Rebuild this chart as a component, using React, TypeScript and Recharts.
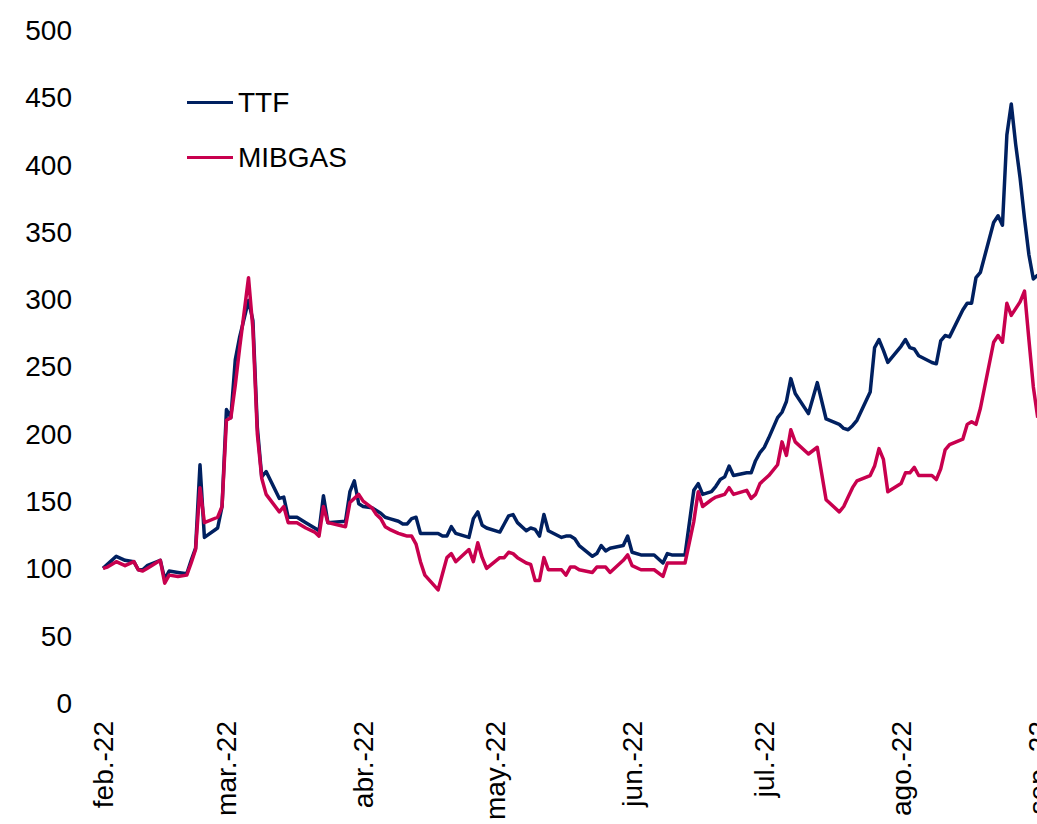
import React from 'react';
import { LineChart, Line, XAxis, YAxis, Legend } from 'recharts';

// readings taken off the chart (index, base 100 = 1 Feb 2022)
const dates = [
  '2022-02-01', '2022-02-02', '2022-02-04', '2022-02-06', '2022-02-08', '2022-02-09', '2022-02-10', '2022-02-11',
  '2022-02-14', '2022-02-15', '2022-02-16', '2022-02-18', '2022-02-20', '2022-02-21', '2022-02-22', '2022-02-23',
  '2022-02-24', '2022-02-27', '2022-02-28', '2022-03-01', '2022-03-02', '2022-03-03', '2022-03-04', '2022-03-06',
  '2022-03-07', '2022-03-08', '2022-03-09', '2022-03-10', '2022-03-13', '2022-03-14', '2022-03-15', '2022-03-17',
  '2022-03-19', '2022-03-21', '2022-03-22', '2022-03-23', '2022-03-24', '2022-03-28', '2022-03-29', '2022-03-30',
  '2022-03-31', '2022-04-01', '2022-04-03', '2022-04-04', '2022-04-05', '2022-04-06', '2022-04-07', '2022-04-09',
  '2022-04-10', '2022-04-11', '2022-04-12', '2022-04-13', '2022-04-14', '2022-04-15', '2022-04-18', '2022-04-19',
  '2022-04-20', '2022-04-21', '2022-04-22', '2022-04-25', '2022-04-26', '2022-04-27', '2022-04-28', '2022-04-29',
  '2022-05-02', '2022-05-03', '2022-05-04', '2022-05-05', '2022-05-06', '2022-05-08', '2022-05-09', '2022-05-10',
  '2022-05-11', '2022-05-12', '2022-05-13', '2022-05-16', '2022-05-17', '2022-05-18', '2022-05-19', '2022-05-20',
  '2022-05-23', '2022-05-24', '2022-05-25', '2022-05-26', '2022-05-27', '2022-05-30', '2022-05-31', '2022-06-01',
  '2022-06-03', '2022-06-06', '2022-06-08', '2022-06-09', '2022-06-10', '2022-06-13', '2022-06-15', '2022-06-16',
  '2022-06-17', '2022-06-19', '2022-06-20', '2022-06-21', '2022-06-22', '2022-06-23', '2022-06-24', '2022-06-27',
  '2022-06-28', '2022-06-29', '2022-06-30', '2022-07-01', '2022-07-02', '2022-07-04', '2022-07-05', '2022-07-06',
  '2022-07-07', '2022-07-08', '2022-07-11', '2022-07-13', '2022-07-15', '2022-07-18', '2022-07-19', '2022-07-20',
  '2022-07-21', '2022-07-22', '2022-07-25', '2022-07-26', '2022-07-27', '2022-07-28', '2022-07-29', '2022-08-01',
  '2022-08-02', '2022-08-03', '2022-08-04', '2022-08-05', '2022-08-08', '2022-08-09', '2022-08-10', '2022-08-11',
  '2022-08-12', '2022-08-15', '2022-08-16', '2022-08-17', '2022-08-18', '2022-08-19', '2022-08-22', '2022-08-23',
  '2022-08-24', '2022-08-25', '2022-08-26', '2022-08-27', '2022-08-28', '2022-08-29', '2022-08-30', '2022-08-31',
  '2022-09-01',
];

const ttf = [
  100, 103, 109, 106, 105, 99, 99, 102,
  106, 92, 98, 97, 96, 106, 115, 177,
  123, 130, 146, 218, 212, 255, 272, 299,
  284, 205, 168, 172, 152, 153, 138, 138,
  134, 130, 128, 154, 134, 135, 157, 165,
  148, 146, 145, 143, 141, 138, 137, 135,
  133, 133, 137, 138, 126, 126, 126, 124,
  124, 131, 126, 123, 137, 142, 132, 130,
  127, 133, 139, 140, 134, 128, 130, 129,
  124, 140, 128, 123, 124, 124, 122, 117,
  109, 111, 117, 113, 115, 117, 124, 112,
  110, 110, 104, 111, 110, 110, 158, 163,
  155, 157, 161, 166, 168, 176, 169, 171,
  171, 180, 186, 190, 197, 212, 216, 224,
  241, 230, 215, 238, 211, 207, 204, 203,
  206, 210, 231, 264, 270, 262, 253, 265,
  270, 264, 263, 258, 253, 252, 269, 273,
  272, 292, 297, 297, 316, 320, 357, 362,
  355, 422, 445, 415, 390, 360, 333, 315,
  318,
];

const mibgas = [
  100, 101, 105, 102, 105, 99, 98, 100,
  106, 89, 95, 94, 95, 104, 114, 160,
  134, 138, 146, 210, 212, 236, 264, 316,
  278, 200, 167, 155, 142, 146, 134, 134,
  130, 127, 124, 146, 134, 131, 149, 152,
  155, 150, 145, 140, 137, 131, 129, 126,
  125, 124, 124, 118, 105, 95, 84, 96,
  108, 111, 105, 114, 105, 119, 108, 100,
  108, 108, 112, 111, 108, 104, 103, 91,
  91, 108, 99, 99, 95, 101, 101, 99,
  97, 101, 101, 101, 97, 106, 110, 102,
  99, 99, 94, 104, 104, 104, 135, 157,
  146, 151, 153, 154, 155, 160, 155, 158,
  152, 155, 163, 166, 169, 177, 194, 184,
  203, 194, 185, 190, 151, 142, 146, 153,
  160, 165, 169, 176, 189, 181, 157, 163,
  171, 171, 175, 169, 169, 166, 174, 188,
  192, 196, 207, 209, 207, 219, 268, 273,
  268, 297, 288, 293, 298, 306, 270, 235,
  212,
];

const seriesNames = ['TTF', 'MIBGAS'];
const monthTicks = ['2022-02-01', '2022-03-01', '2022-04-01', '2022-05-01', '2022-06-01', '2022-07-01', '2022-08-01', '2022-09-01'];
const monthLabels = ['feb.-22', 'mar.-22', 'abr.-22', 'may.-22', 'jun.-22', 'jul.-22', 'ago.-22', 'sep.-22'];
const yTicks = [0, 50, 100, 150, 200, 250, 300, 350, 400, 450, 500];

const FONT = '"Liberation Sans", Arial, sans-serif';
const START = Date.UTC(2022, 1, 1);
const toDay = (s: string) => {
  const [y, m, d] = s.split('-').map(Number);
  return (Date.UTC(y, m - 1, d) - START) / 86400000;
};

const data = dates.map((d, i) => ({ day: toDay(d), ttf: ttf[i], mibgas: mibgas[i] }));
const tickDays = monthTicks.map(toDay);

const MonthTick = ({ x, y, payload }: any) => {
  const label = monthLabels[tickDays.indexOf(payload.value)];
  return (
    <text
      x={x}
      y={y}
      transform={`rotate(-90 ${x} ${y})`}
      textAnchor="end"
      dy="0.35em"
      fontSize={28}
      fill="#000"
      fontFamily={FONT}
    >
      {label}
    </text>
  );
};

const LegendBox = ({ payload }: any) => {
  const items = [...(payload || [])].sort(
    (a: any, b: any) => seriesNames.indexOf(a.value) - seriesNames.indexOf(b.value)
  );
  return (
    <div style={{ fontFamily: FONT, fontSize: 28, color: '#000' }}>
      {items.map((p: any) => (
        <div key={p.value} style={{ display: 'flex', alignItems: 'center', height: 55 }}>
          <span style={{ display: 'inline-block', width: 46, height: 3, background: p.color, marginRight: 5 }} />
          <span>{p.value}</span>
        </div>
      ))}
    </div>
  );
};

export default function App() {
  return (
    <div style={{ position: 'fixed', left: 0, top: 0, width: 1037, height: 824, overflow: 'hidden', background: '#fff' }}>
      <LineChart
        width={1083}
        height={824}
        data={data}
        margin={{ top: 30, right: 10, left: 0, bottom: 0 }}
        style={{ fontFamily: FONT }}
      >
        <XAxis
          type="number"
          dataKey="day"
          domain={[0, 220]}
          ticks={tickDays}
          interval={0}
          axisLine={false}
          tickLine={false}
          tickSize={0}
          tickMargin={18}
          height={121}
          tick={<MonthTick />}
        />
        <YAxis
          domain={[0, 500]}
          ticks={yTicks}
          interval={0}
          width={103}
          axisLine={false}
          tickLine={false}
          tickSize={0}
          tickMargin={31}
          tick={{ fontSize: 28, fill: '#000', fontFamily: FONT }}
        />
        <Legend
          align="center"
          verticalAlign="middle"
          layout="horizontal"
          content={<LegendBox />}
          wrapperStyle={{ left: 187, top: 75, width: 'auto' }}
        />
        <Line
          type="linear"
          dataKey="ttf"
          name={seriesNames[0]}
          stroke="#002060"
          strokeWidth={3.5}
          dot={false}
          strokeLinejoin="round"
          isAnimationActive={false}
        />
        <Line
          type="linear"
          dataKey="mibgas"
          name={seriesNames[1]}
          stroke="#C8004E"
          strokeWidth={3.5}
          dot={false}
          strokeLinejoin="round"
          isAnimationActive={false}
        />
      </LineChart>
    </div>
  );
}
